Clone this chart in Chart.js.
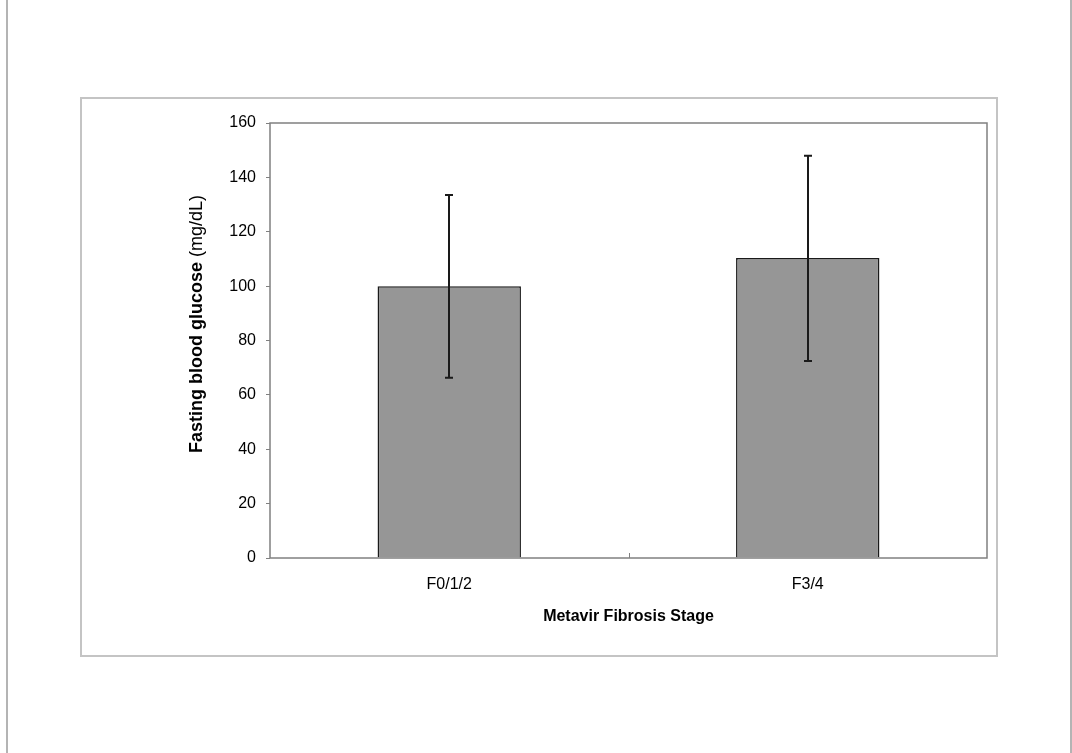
<!DOCTYPE html>
<html>
<head>
<meta charset="utf-8">
<script src="https://cdn.jsdelivr.net/npm/chart.js@4"></script>
<style>
  body { margin: 0; background: #fff; }
</style>
</head>
<body>
<canvas id="myChart" width="1072" height="753"></canvas>
<script>
// datos
const etapas = ["F0/1/2", "F3/4"];
const glucosa = [100, 110.3];
const errorSup = [33.5, 37.7];
const errorInf = [33.7, 37.8];
const ticksY = [0, 20, 40, 60, 80, 100, 120, 140, 160];

const fuente = "'Liberation Sans', Arial, sans-serif";

// marco, lineas de pagina, barras de error y titulo del eje y
const extras = {
  id: "extras",
  beforeDraw: (chart) => {
    const ctx = chart.ctx;
    ctx.save();
    ctx.fillStyle = "#fff";
    ctx.fillRect(0, 0, chart.width, chart.height);
    ctx.strokeStyle = "#b4b4b4";
    ctx.lineWidth = 2;
    ctx.beginPath();
    ctx.moveTo(7, 0);
    ctx.lineTo(7, chart.height);
    ctx.moveTo(1071, 0);
    ctx.lineTo(1071, chart.height);
    ctx.stroke();
    ctx.strokeStyle = "#c4c4c4";
    ctx.strokeRect(81, 98, 916, 558);
    ctx.restore();
  },
  afterDatasetsDraw: (chart) => {
    const ctx = chart.ctx;
    const x = chart.scales.x;
    const y = chart.scales.y;
    const area = chart.chartArea;
    ctx.save();
    // borde del area
    ctx.strokeStyle = "#808080";
    ctx.lineWidth = 1.5;
    ctx.strokeRect(area.left, area.top, area.right - area.left, area.bottom - area.top);
    // tick entre categorias
    const medio = Math.round((x.getPixelForValue(0) + x.getPixelForValue(1)) / 2) + 0.5;
    ctx.lineWidth = 1;
    ctx.beginPath();
    ctx.moveTo(medio, area.bottom);
    ctx.lineTo(medio, area.bottom - 5);
    ctx.stroke();
    // barras de error
    ctx.strokeStyle = "#1a1a1a";
    ctx.lineWidth = 2;
    glucosa.forEach((valor, i) => {
      const px = Math.round(x.getPixelForValue(i));
      const arriba = y.getPixelForValue(valor + errorSup[i]);
      const abajo = y.getPixelForValue(valor - errorInf[i]);
      ctx.beginPath();
      ctx.moveTo(px, arriba);
      ctx.lineTo(px, abajo);
      ctx.moveTo(px - 4, arriba);
      ctx.lineTo(px + 4, arriba);
      ctx.moveTo(px - 4, abajo);
      ctx.lineTo(px + 4, abajo);
      ctx.stroke();
    });
    // titulo eje y
    const negrita = "Fasting blood glucose";
    const normal = " (mg/dL)";
    ctx.fillStyle = "#000";
    ctx.translate(197, 324);
    ctx.rotate(-Math.PI / 2);
    ctx.font = "bold 18px " + fuente;
    const w1 = ctx.measureText(negrita).width;
    ctx.font = "18px " + fuente;
    const w2 = ctx.measureText(normal).width;
    const inicio = -(w1 + w2) / 2;
    ctx.textBaseline = "middle";
    ctx.textAlign = "left";
    ctx.font = "bold 18px " + fuente;
    ctx.fillText(negrita, inicio, 0);
    ctx.font = "18px " + fuente;
    ctx.fillText(normal, inicio + w1, 0);
    ctx.restore();
  },
};

const ctx = document.getElementById("myChart");
const myChart = new Chart(ctx, {
  type: "bar",
  data: {
    labels: etapas,
    datasets: [
      {
        label: "Glucosa",
        data: glucosa,
        backgroundColor: "#969696",
        borderColor: "#1a1a1a",
        borderWidth: 1.5,
        barPercentage: 0.4,
        categoryPercentage: 1,
      },
    ],
  },
  options: {
    responsive: false,
    animation: false,
    layout: {
      padding: { left: 80, right: 85, top: 123, bottom: 123 },
    },
    plugins: {
      legend: { display: false },
      tooltip: { enabled: false },
    },
    scales: {
      x: {
        afterFit: (scale) => {
          scale.height = 72;
        },
        grid: { display: false },
        border: { display: false },
        ticks: {
          color: "#000",
          padding: 9,
          font: { size: 16, family: fuente },
        },
        title: {
          display: true,
          text: "Metavir Fibrosis Stage",
          color: "#000",
          padding: { top: 12 },
          font: { size: 16, weight: "bold", family: fuente },
        },
      },
      y: {
        min: 0,
        max: 160,
        afterFit: (scale) => {
          scale.width = 190;
        },
        afterBuildTicks: (scale) => {
          scale.ticks = ticksY.map((v) => ({ value: v }));
        },
        grid: {
          drawOnChartArea: false,
          drawTicks: true,
          tickLength: 4,
          color: "#808080",
        },
        border: { display: false },
        ticks: {
          color: "#000",
          padding: 10,
          font: { size: 16, family: fuente },
        },
      },
    },
  },
  plugins: [extras],
});
</script>
</body>
</html>
